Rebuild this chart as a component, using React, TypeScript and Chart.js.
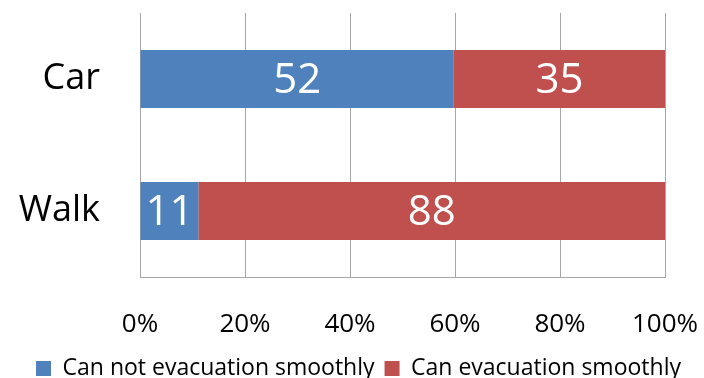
import React, { useEffect, useRef } from "react";
import { Chart, registerables } from "chart.js";

Chart.register(...registerables);

const categories = ["Car", "Walk"];
const seriesNames = ["Can not evacuation smoothly", "Can evacuation smoothly"];
const cannotValues = [52, 11];
const canValues = [35, 88];
const tickValues = [0, 20, 40, 60, 80, 100];
const colors = ["#4F81BD", "#C0504D"];

const FONT = "'Open Sans', sans-serif";

export default function App() {
  const ref = useRef<HTMLCanvasElement | null>(null);
  useEffect(() => {
    if (!ref.current) return;
    const totals = categories.map((_, i) => cannotValues[i] + canValues[i]);
    const pct = (arr: number[]) => arr.map((v, i) => (v / totals[i]) * 100);
    const raw = [cannotValues, canValues];

    const labelPlugin = {
      id: "valueLabels",
      afterDatasetsDraw(chart: any) {
        const ctx = chart.ctx;
        ctx.save();
        ctx.fillStyle = "#FFFFFF";
        ctx.font = `42px ${FONT}`;
        ctx.textAlign = "center";
        ctx.textBaseline = "middle";
        chart.data.datasets.forEach((ds: any, di: number) => {
          const meta = chart.getDatasetMeta(di);
          meta.data.forEach((el: any, i: number) => {
            const p = el.getProps(["x", "y", "base"], true);
            const cx = (p.x + p.base) / 2;
            ctx.fillText(String(raw[di][i]), cx, p.y + 2);
          });
        });
        ctx.restore();
      },
    };

    const legendShift = {
      id: "legendShift",
      afterLayout(chart: any) {
        if (chart.legend) {
          chart.legend.left += 26;
          chart.legend.right += 26;
        }
      },
    };

    const chart = new Chart(ref.current, {
      type: "bar",
      data: {
        labels: categories,
        datasets: [
          { label: seriesNames[0], data: pct(cannotValues), backgroundColor: colors[0] },
          { label: seriesNames[1], data: pct(canValues), backgroundColor: colors[1] },
        ],
      },
      options: {
        indexAxis: "y",
        animation: false,
        responsive: false,
        maintainAspectRatio: false,
        layout: { padding: { top: 13, right: 39, left: 0, bottom: -12 } },
        datasets: { bar: { categoryPercentage: 1, barPercentage: 0.44 } },
        scales: {
          x: {
            stacked: true,
            min: 0,
            max: 100,
            afterBuildTicks: (scale: any) => {
              scale.ticks = tickValues.map((v) => ({ value: v }));
            },
            afterFit: (scale: any) => {
              scale.height = 70;
              scale.paddingLeft = 0;
              scale.paddingRight = 0;
            },
            grid: { color: "#A6A6A6", drawTicks: false, lineWidth: 1 },
            border: { color: "#A6A6A6" },
            ticks: {
              color: "#000",
              padding: 32,
              font: { family: FONT, size: 26 },
              callback: (v: any) => v + "%",
            },
          },
          y: {
            stacked: true,
            afterFit: (scale: any) => {
              scale.width = 140;
              scale.paddingTop = 0;
              scale.paddingBottom = 0;
            },
            grid: { display: false, drawTicks: false },
            border: { color: "#A6A6A6" },
            ticks: {
              color: "#000",
              padding: 40,
              font: { family: FONT, size: 36 },
            },
          },
        },
        plugins: {
          legend: {
            position: "bottom",
            labels: {
              color: "#000",
              font: { family: FONT, size: 23 },
              boxWidth: 15,
              boxHeight: 15,
              padding: 10,
            },
          },
          tooltip: { enabled: false },
        },
      },
      plugins: [labelPlugin, legendShift],
    });
    return () => chart.destroy();
  }, []);

  return (
    <div style={{ position: "fixed", left: 0, top: 0, width: 704, height: 378, background: "#fff" }}>
      <canvas ref={ref} width={704} height={378} style={{ width: 704, height: 378 }} />
    </div>
  );
}
